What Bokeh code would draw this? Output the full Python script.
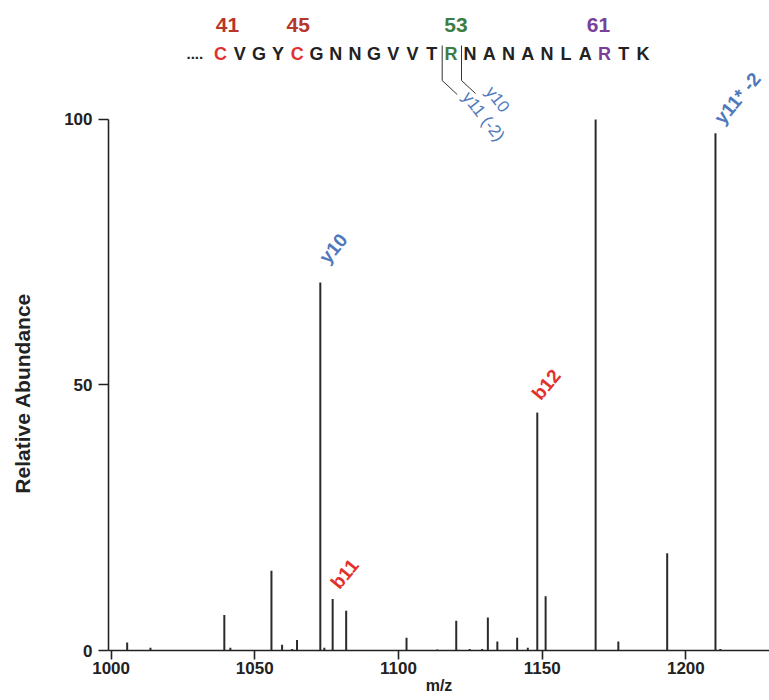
import math
from bokeh.plotting import figure
from bokeh.layouts import row
from bokeh.models import ColumnDataSource, FixedTicker, Label
from bokeh.core.properties import value
from bokeh.embed import file_html
from bokeh.resources import INLINE

# ---------------- data ----------------
mz = [1005.6, 1013.7, 1039.4, 1041.5, 1055.8, 1059.5, 1063.0, 1064.7, 1072.8,
      1074.2, 1077.1, 1081.8, 1102.8, 1113.5, 1120.1, 1124.8, 1129.1, 1131.1,
      1134.4, 1141.3, 1145.0, 1148.3, 1151.2, 1168.6, 1176.5, 1193.5, 1210.3,
      1212.0]
abundance = [1.5, 0.5, 6.7, 0.5, 15.0, 1.1, 0.3, 2.0, 69.3,
             0.5, 9.7, 7.5, 2.4, 0.2, 5.6, 0.3, 0.3, 6.2,
             1.7, 2.4, 0.5, 44.8, 10.2, 100.0, 1.7, 18.3, 97.4,
             0.3]

ion_labels = ["y10", "b11", "b12", "y11* -2"]
ion_mz = [1072.8, 1077.1, 1148.3, 1210.3]
ion_kind = ["y", "b", "b", "y"]

x_ticks = [1000, 1050, 1100, 1150, 1200]
y_ticks = [0, 50, 100]

sequence = list("CVGYCGNNGVVTRNANANLARTK")
residue_numbers = ["41", "45", "53", "61"]
residue_index = [0, 4, 12, 20]

BLUE = "#4f78bd"
RED = "#e2302c"
DARK_RED = "#b8362c"
GREEN = "#3d7d45"
PURPLE = "#7a3f99"
INK = "#222222"
FONT = "Liberation Sans"

# ---------------- layout helpers (pixel -> data for annotations) -------------
LABEL_W = 40
X_START, X_END = 999.1, 1229.1
Y_START, Y_END = 0.0, 122.4
PX_LEFT, PX_RIGHT, PX_BOTTOM, PX_TOP = 108, 769, 650, 0


def dx(px):
    return X_START + (px - PX_LEFT) * (X_END - X_START) / (PX_RIGHT - PX_LEFT)


def dy(py):
    return Y_START + (PX_BOTTOM - py) * (Y_END - Y_START) / (PX_BOTTOM - PX_TOP)


# narrow strip that carries the y-axis title
lab = figure(width=LABEL_W, height=700, x_range=(0, LABEL_W), y_range=(700, 0),
             output_backend="svg", toolbar_location=None,
             min_border_left=0, min_border_right=0, min_border_top=0,
             min_border_bottom=0)
lab.axis.visible = False
lab.grid.visible = False
lab.outline_line_color = None
lab.background_fill_color = "white"
lab.border_fill_color = "white"
lab.text(x=[22], y=[423], text=["Relative Abundance"], angle=math.pi / 2,
         text_align="center", text_baseline="middle", text_font=value(FONT),
         text_font_style="bold", text_font_size="21px", text_color=INK)

p = figure(width=769 - LABEL_W, height=700, x_range=(X_START, X_END),
           y_range=(Y_START, Y_END),
           output_backend="svg", toolbar_location=None,
           min_border_left=PX_LEFT - LABEL_W, min_border_right=0, min_border_top=0,
           min_border_bottom=50)
p.outline_line_color = None
p.grid.visible = False
p.background_fill_color = "white"
p.border_fill_color = "white"

# peaks
src = ColumnDataSource(dict(x=mz, y0=[0] * len(mz), y1=abundance))
p.segment(x0="x", y0="y0", x1="x", y1="y1", source=src, line_color="#2a2a2a",
          line_width=2)

# axes
xa = p.xaxis[0]
xa.ticker = FixedTicker(ticks=x_ticks)
xa.minor_tick_line_color = None
xa.major_tick_out = 9
xa.major_tick_in = 0
xa.axis_line_width = 1.6
xa.major_tick_line_width = 1.6
xa.axis_line_color = INK
xa.major_tick_line_color = INK
xa.major_label_text_font = FONT
xa.major_label_text_font_style = "bold"
xa.major_label_text_font_size = "17px"
xa.major_label_text_color = INK
xa.major_label_standoff = 2
xa.axis_label = "m/z"
xa.axis_label_text_font = FONT
xa.axis_label_text_font_style = "bold"
xa.axis_label_text_font_size = "16px"
xa.axis_label_text_color = INK
xa.axis_label_standoff = 0

ya = p.yaxis[0]
ya.ticker = FixedTicker(ticks=y_ticks)
ya.bounds = (0, 100)
ya.minor_tick_line_color = None
ya.major_tick_out = 10
ya.major_tick_in = 0
ya.axis_line_width = 1.6
ya.major_tick_line_width = 1.6
ya.axis_line_color = INK
ya.major_tick_line_color = INK
ya.major_label_text_font = FONT
ya.major_label_text_font_style = "bold"
ya.major_label_text_font_size = "17px"
ya.major_label_text_color = INK
ya.major_label_standoff = 6

# ion labels above peaks
offsets = {"y10": (13, 34), "b11": (12, 25), "b12": (9, 28), "y11* -2": (22, 35)}
for txt, m, kind in zip(ion_labels, ion_mz, ion_kind):
    h = abundance[mz.index(m)]
    ox, oy = offsets[txt]
    p.add_layout(Label(x=m, y=h, x_offset=ox, y_offset=oy, text=txt,
                       angle=math.radians(50), text_align="center",
                       text_baseline="middle", text_font=FONT,
                       text_font_style="bold", text_font_size="19px",
                       text_color=BLUE if kind == "y" else RED))

# sequence
letter_px = [220 + 19.2 * i for i in range(len(sequence))]
letter_colors = []
for i in range(len(sequence)):
    if i in (0, 4):
        letter_colors.append(RED)
    elif i == 12:
        letter_colors.append(GREEN)
    elif i == 20:
        letter_colors.append(PURPLE)
    else:
        letter_colors.append(INK)
seq_src = ColumnDataSource(dict(x=[dx(v) for v in letter_px],
                                y=[dy(53)] * len(sequence),
                                t=sequence, c=letter_colors))
p.text(x="x", y="y", text="t", text_color="c", source=seq_src,
       text_align="center", text_baseline="middle",
       text_font=value(FONT), text_font_style="bold", text_font_size="18px")
p.add_layout(Label(x=dx(186), y=dy(53), text="....", text_align="left",
                   text_baseline="middle", text_font=FONT,
                   text_font_style="bold", text_font_size="15px",
                   text_color=INK))

num_colors = [DARK_RED, DARK_RED, GREEN, PURPLE]
num_shift = [7, 1, 5, -6]
num_src = ColumnDataSource(dict(
    x=[dx(letter_px[i] + s) for i, s in zip(residue_index, num_shift)],
    y=[dy(24)] * len(residue_numbers), t=residue_numbers, c=num_colors))
p.text(x="x", y="y", text="t", text_color="c", source=num_src,
       text_align="center", text_baseline="middle",
       text_font=value(FONT), text_font_style="bold", text_font_size="21px")

# fragmentation brackets
p.line(x=[dx(441.7), dx(441.7), dx(456.7)], y=[dy(45), dy(80), dy(94)],
       line_color="#333333", line_width=1)
p.line(x=[dx(461), dx(461), dx(475)], y=[dy(45), dy(80), dy(93)],
       line_color="#333333", line_width=1)
p.add_layout(Label(x=dx(483), y=dy(116), text="y11 (-2)", angle=math.radians(-52),
                   text_align="center", text_baseline="middle", text_font=FONT,
                   text_font_size="17px", text_color=BLUE))
p.add_layout(Label(x=dx(497), y=dy(99), text="y10", angle=math.radians(-52),
                   text_align="center", text_baseline="middle", text_font=FONT,
                   text_font_size="17px", text_color=BLUE))

layout = row(lab, p)
open("out.html", "w").write(file_html(layout, INLINE))
